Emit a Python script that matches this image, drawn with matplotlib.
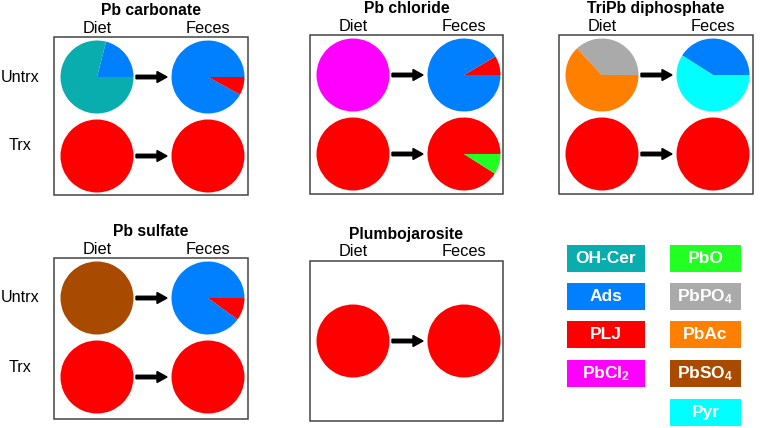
import matplotlib
matplotlib.use("Agg")
from matplotlib import pyplot as plt
from matplotlib.patches import Rectangle

plt.rcParams['font.family'] = ['Liberation Sans', 'DejaVu Sans']
plt.rcParams['mathtext.default'] = 'regular'

# colour of each lead species
species = ["OH-Cer", "Ads", "PLJ", "PbCl2", "PbO", "PbPO4", "PbAc", "PbSO4", "Pyr"]
species_colors = ["#0AADAD", "#0080FF", "#FF0000", "#FF00FF", "#22FF22",
                  "#AAAAAA", "#FF8000", "#A84B00", "#00FFFF"]
legend_labels = ["OH-Cer", "Ads", "PLJ", "PbCl$_2$", "PbO",
                 "PbPO$_4$", "PbAc", "PbSO$_4$", "Pyr"]
color_of = dict(zip(species, species_colors))

# pie fractions (%): (species, values)
pb_carbonate = {
    "Untrx": {"Diet": (["Ads", "OH-Cer"], [21, 79]), "Feces": (["Ads", "PLJ"], [92, 8])},
    "Trx": {"Diet": (["PLJ"], [100]), "Feces": (["PLJ"], [100])},
}
pb_chloride = {
    "Untrx": {"Diet": (["PbCl2"], [100]), "Feces": (["PLJ", "Ads"], [8.5, 91.5])},
    "Trx": {"Diet": (["PLJ"], [100]), "Feces": (["PLJ", "PbO"], [91, 9])},
}
tripb_diphosphate = {
    "Untrx": {"Diet": (["PbPO4", "PbAc"], [37, 63]), "Feces": (["Ads", "Pyr"], [41, 59])},
    "Trx": {"Diet": (["PLJ"], [100]), "Feces": (["PLJ"], [100])},
}
pb_sulfate = {
    "Untrx": {"Diet": (["PbSO4"], [100]), "Feces": (["Ads", "PLJ"], [90, 10])},
    "Trx": {"Diet": (["PLJ"], [100]), "Feces": (["PLJ"], [100])},
}
plumbojarosite = {
    "": {"Diet": (["PLJ"], [100]), "Feces": (["PLJ"], [100])},
}

panels = [
    ("Pb carbonate", pb_carbonate, (54, 37, 248, 195), True),
    ("Pb chloride", pb_chloride, (310, 35, 503, 194), False),
    ("TriPb diphosphate", tripb_diphosphate, (559, 35, 753, 194), False),
    ("Pb sulfate", pb_sulfate, (54, 258, 248, 419), True),
    ("Plumbojarosite", plumbojarosite, (310, 261, 503, 421), False),
]

fig = plt.figure(figsize=(7.62, 4.28), dpi=100)
ax = fig.add_axes([0, 0, 1, 1])

for title, data, (x0, y0, x1, y1), row_labels in panels:
    ax.add_patch(Rectangle((x0, y0), x1 - x0, y1 - y0, fill=False,
                           edgecolor="#444444", lw=1.1))
    ax.text((x0 + x1) / 2, y0 - 27, title, ha="center", va="center",
            fontsize=11.3, fontweight="bold")
    dx, fx = x0 + 43, x0 + 154
    ax.text(dx, y0 - 9, "Diet", ha="center", va="center", fontsize=11.8)
    ax.text(fx, y0 - 9, "Feces", ha="center", va="center", fontsize=11.8)
    rows = list(data.keys())
    if len(rows) == 2:
        row_y = [y0 + 40, y0 + 119]
    else:
        row_y = [(y0 + y1) / 2]
    for row, cy in zip(rows, row_y):
        for col, cx in (("Diet", dx), ("Feces", fx)):
            names, vals = data[row][col]
            ax.pie(vals, colors=[color_of[n] for n in names], center=(cx, cy),
                   radius=36.5, startangle=0, counterclock=False, frame=True,
                   wedgeprops=dict(linewidth=0))
        ax.arrow(x0 + 82, cy, 31, 0, width=3.5, head_width=11, head_length=10,
                 length_includes_head=True, color="black")
        if row_labels and row:
            ly = cy if row == "Untrx" else cy - 10
            ax.text(20, ly, row, ha="center", va="center", fontsize=11.6)

# legend boxes
legend_cols = [(567, 645), (670, 741)]
legend_rows = [245, 283, 321, 360, 399]
col1 = ["OH-Cer", "Ads", "PLJ", "PbCl2"]
col2 = ["PbO", "PbPO4", "PbAc", "PbSO4", "Pyr"]
for (lx0, lx1), names in zip(legend_cols, (col1, col2)):
    for name, ty in zip(names, legend_rows):
        ax.add_patch(Rectangle((lx0, ty), lx1 - lx0, 27, facecolor=color_of[name],
                               edgecolor="none"))
        ax.text((lx0 + lx1) / 2, ty + 13.5, legend_labels[species.index(name)],
                ha="center", va="center", fontsize=12.5, fontweight="bold",
                color="white")

ax.set_xlim(0, 762)
ax.set_ylim(428, 0)
ax.set_aspect("equal")
ax.axis("off")
fig.savefig("out.png", dpi=100)
